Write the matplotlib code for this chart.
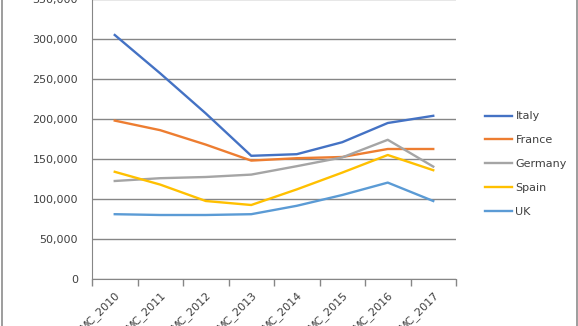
import matplotlib.pyplot as plt
from matplotlib.lines import Line2D
from matplotlib.ticker import FuncFormatter, MultipleLocator

years = ["MC_2010", "MC_2011", "MC_2012", "MC_2013", "MC_2014", "MC_2015", "MC_2016", "MC_2017"]
italy = [305000, 257000, 207000, 154000, 156000, 171000, 195000, 204000]
france = [198000, 186000, 168000, 148000, 151000, 152500, 162500, 162500]
germany = [122500, 126000, 127500, 130500, 141000, 152000, 174000, 140500]
spain = [134000, 118000, 97500, 92500, 112000, 133000, 155000, 136000]
uk = [81000, 80000, 80000, 81000, 91500, 105000, 120500, 97500]

series = [
    ("Italy", italy, "#4472C4"),
    ("France", france, "#ED7D31"),
    ("Germany", germany, "#A5A5A5"),
    ("Spain", spain, "#FFC000"),
    ("UK", uk, "#5B9BD5"),
]

W, H = 578, 326
fig = plt.figure(figsize=(W / 100, H / 100), dpi=100)
# plot area runs past the top edge of the figure
ax = fig.add_axes([92 / W, 47 / H, 364 / W, 280 / H])

x = list(range(len(years)))
for name, vals, col in series:
    ax.plot(x, vals, color=col, lw=1.7, label=name, solid_joinstyle="round")

ax.set_xlim(-0.5, len(years) - 0.5)
ax.set_ylim(0, 350000)
ax.yaxis.set_major_locator(MultipleLocator(50000))
ax.yaxis.set_major_formatter(FuncFormatter(lambda v, p: f"{int(v):,}"))
ax.grid(axis="y", color="#868686", lw=1)
ax.set_axisbelow(True)

ax.set_xticks(x)
ax.set_xticklabels(years, rotation=45, ha="right", va="top", rotation_mode="anchor",
                   fontsize=8, color="#404040")
ax.set_xticks([i - 0.5 for i in range(len(years) + 1)], minor=True)
ax.tick_params(axis="x", which="major", length=0, pad=7)
ax.tick_params(axis="x", which="minor", length=5, color="#868686", width=1)
ax.tick_params(axis="y", length=0, labelsize=8, labelcolor="#404040", pad=10)

for side in ("top", "right"):
    ax.spines[side].set_visible(False)
ax.spines["left"].set_color("#868686")
ax.spines["bottom"].set_color("#868686")

leg = fig.legend(loc="upper left", bbox_to_anchor=(481 / W, 1 - 107 / H), frameon=False,
                 fontsize=8, handlelength=2.4, handletextpad=0.3, labelspacing=1.25,
                 borderaxespad=0)
for t in leg.get_texts():
    t.set_color("#404040")

# outer chart border
fig.add_artist(Line2D([2 / W, 2 / W], [0, 1], color="#8c8c8c", lw=1.2))
fig.add_artist(Line2D([576.5 / W, 576.5 / W], [0, 1], color="#8c8c8c", lw=1.2))

fig.savefig("out.png", dpi=100)
